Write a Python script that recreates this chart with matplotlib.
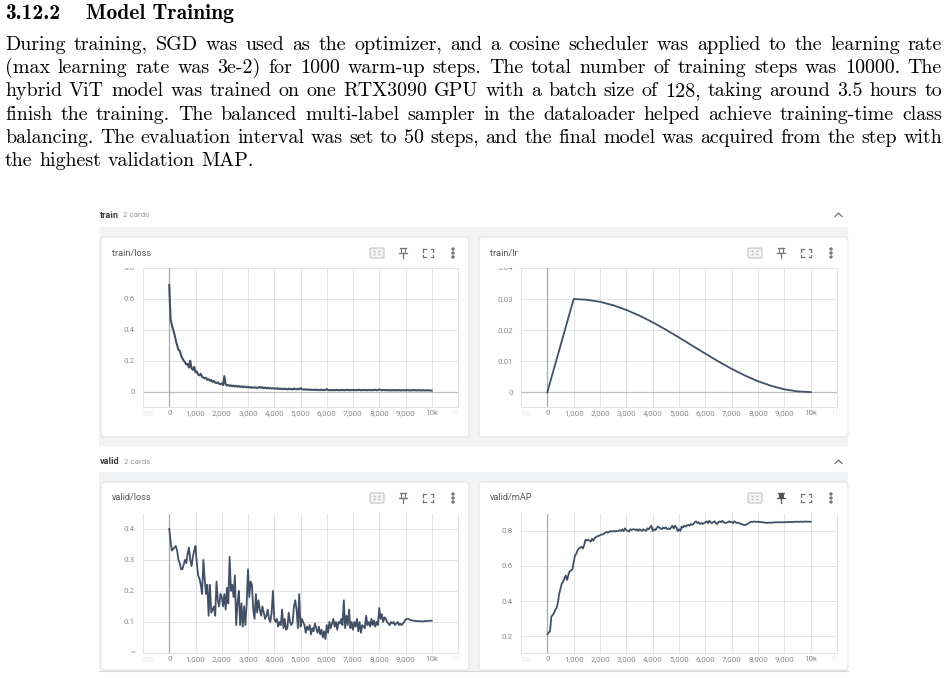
import matplotlib
matplotlib.use('agg')
import matplotlib.pyplot as plt
import numpy as np
from matplotlib.patches import Rectangle, FancyBboxPatch, Circle
from matplotlib.ticker import FuncFormatter
from matplotlib.transforms import Bbox, TransformedBbox

W, H = 947, 678

HEADING_NUM = '3.12.2'
HEADING_TITLE = 'Model Training'
PARAGRAPH = [
    'During training, SGD was used as the optimizer, and a cosine scheduler was applied to the learning rate',
    '(max learning rate was 3e-2) for 1000 warm-up steps. The total number of training steps was 10000. The',
    'hybrid ViT model was trained on one RTX3090 GPU with a batch size of 128, taking around 3.5 hours to',
    'finish the training. The balanced multi-label sampler in the dataloader helped achieve training-time class',
    'balancing. The evaluation interval was set to 50 steps, and the final model was acquired from the step with',
    'the highest validation MAP.',
]

steps = np.arange(0, 10001, 50)

train_loss = [
    0.69, 0.47, 0.43, 0.40, 0.37, 0.33, 0.30, 0.27, 0.265, 0.235,
    0.215, 0.20, 0.19, 0.175, 0.18, 0.155, 0.20, 0.15, 0.14, 0.16,
    0.125, 0.13, 0.11, 0.105, 0.115, 0.095, 0.09, 0.085, 0.09, 0.075,
    0.08, 0.07, 0.075, 0.062, 0.068, 0.058, 0.055, 0.06, 0.05, 0.048,
    0.052, 0.042, 0.10, 0.045, 0.038, 0.044, 0.036, 0.04, 0.034, 0.039,
    0.033, 0.037, 0.031, 0.036, 0.03, 0.034, 0.028, 0.033, 0.029, 0.027,
    0.031, 0.026, 0.029, 0.024, 0.028, 0.025, 0.027, 0.023, 0.026, 0.03,
    0.024, 0.028, 0.022, 0.026, 0.021, 0.025, 0.02, 0.023, 0.019, 0.022,
    0.02, 0.018, 0.022, 0.017, 0.02, 0.016, 0.019, 0.015, 0.018, 0.016,
    0.014, 0.019, 0.015, 0.017, 0.013, 0.02, 0.016, 0.014, 0.018, 0.015,
    0.022, 0.016, 0.013, 0.015, 0.012, 0.014, 0.011, 0.013, 0.012, 0.01,
    0.012, 0.01, 0.013, 0.009, 0.011, 0.01, 0.012, 0.009, 0.011, 0.01,
    0.016, 0.01, 0.008, 0.011, 0.009, 0.01, 0.008, 0.011, 0.009, 0.01,
    0.008, 0.011, 0.009, 0.01, 0.008, 0.012, 0.009, 0.01, 0.008, 0.011,
    0.009, 0.01, 0.008, 0.011, 0.009, 0.012, 0.008, 0.01, 0.009, 0.011,
    0.008, 0.01, 0.009, 0.011, 0.008, 0.01, 0.009, 0.012, 0.008, 0.01,
    0.014, 0.01, 0.008, 0.011, 0.009, 0.01, 0.008, 0.01, 0.007, 0.009,
    0.008, 0.01, 0.007, 0.009, 0.008, 0.01, 0.007, 0.009, 0.008, 0.009,
    0.007, 0.01, 0.008, 0.009, 0.007, 0.009, 0.008, 0.01, 0.007, 0.009,
    0.008, 0.009, 0.007, 0.009, 0.008, 0.007, 0.009, 0.007, 0.008, 0.007,
    0.006,
]

lr_steps = [0, 1000, 1500, 2000, 2500, 3000, 3500, 4000, 4500, 5000, 5500,
            6000, 6500, 7000, 7500, 8000, 8500, 9000, 9500, 10000]
lr_values = [0.0, 0.0300, 0.02977, 0.02910, 0.02799, 0.02649, 0.02464, 0.02250,
             0.02013, 0.01760, 0.01500, 0.01240, 0.00987, 0.00750, 0.00536,
             0.00351, 0.00201, 0.00090, 0.00023, 0.0]

valid_loss = [
    0.40, 0.36, 0.33, 0.335, 0.34, 0.345, 0.33, 0.30, 0.29, 0.27,
    0.27, 0.285, 0.30, 0.29, 0.32, 0.34, 0.30, 0.28, 0.31, 0.33,
    0.345, 0.29, 0.25, 0.24, 0.22, 0.19, 0.30, 0.24, 0.19, 0.22,
    0.12, 0.22, 0.13, 0.14, 0.15, 0.12, 0.23, 0.17, 0.15, 0.19,
    0.18, 0.15, 0.19, 0.14, 0.21, 0.16, 0.31, 0.20, 0.22, 0.18,
    0.25, 0.09, 0.16, 0.20, 0.09, 0.16, 0.085, 0.15, 0.09, 0.16,
    0.27, 0.18, 0.23, 0.22, 0.14, 0.11, 0.19, 0.13, 0.17, 0.14,
    0.12, 0.15, 0.13, 0.11, 0.12, 0.14, 0.11, 0.10, 0.13, 0.20,
    0.11, 0.10, 0.11, 0.085, 0.10, 0.09, 0.14, 0.08, 0.11, 0.075,
    0.08, 0.13, 0.10, 0.09, 0.10, 0.15, 0.17, 0.14, 0.08, 0.19,
    0.085, 0.11, 0.10, 0.09, 0.065, 0.085, 0.075, 0.09, 0.06, 0.08,
    0.07, 0.095, 0.08, 0.065, 0.085, 0.06, 0.075, 0.05, 0.07, 0.045,
    0.09, 0.065, 0.10, 0.08, 0.095, 0.11, 0.085, 0.10, 0.075, 0.10,
    0.095, 0.11, 0.09, 0.17, 0.08, 0.12, 0.09, 0.14, 0.08, 0.10,
    0.075, 0.10, 0.085, 0.11, 0.07, 0.10, 0.065, 0.09, 0.085, 0.08,
    0.12, 0.09, 0.10, 0.085, 0.11, 0.09, 0.105, 0.085, 0.10, 0.09,
    0.145, 0.11, 0.125, 0.10, 0.115, 0.11, 0.10, 0.095, 0.09, 0.10,
    0.095, 0.10, 0.09, 0.095, 0.10, 0.09, 0.095, 0.09, 0.095, 0.10,
    0.108, 0.11, 0.11, 0.108, 0.106, 0.105, 0.104, 0.104, 0.103, 0.103,
    0.103, 0.102, 0.102, 0.102, 0.102, 0.103, 0.103, 0.103, 0.104, 0.104,
    0.104,
]

valid_map = [
    0.21, 0.22, 0.225, 0.31, 0.32, 0.33, 0.35, 0.36, 0.39, 0.44,
    0.47, 0.50, 0.51, 0.53, 0.545, 0.52, 0.55, 0.57, 0.575, 0.58,
    0.62, 0.66, 0.67, 0.69, 0.70, 0.705, 0.71, 0.70, 0.72, 0.75,
    0.745, 0.75, 0.745, 0.74, 0.755, 0.745, 0.76, 0.765, 0.77, 0.772,
    0.775, 0.78, 0.78, 0.785, 0.79, 0.795, 0.79, 0.795, 0.80, 0.797,
    0.80, 0.796, 0.80, 0.798, 0.80, 0.805, 0.80, 0.81, 0.80, 0.815,
    0.805, 0.80, 0.796, 0.81, 0.805, 0.81, 0.81, 0.805, 0.81, 0.80,
    0.81, 0.805, 0.80, 0.81, 0.805, 0.80, 0.815, 0.81, 0.82, 0.83,
    0.80, 0.81, 0.805, 0.815, 0.825, 0.82, 0.815, 0.81, 0.82, 0.815,
    0.82, 0.81, 0.815, 0.81, 0.82, 0.83, 0.815, 0.83, 0.82, 0.80,
    0.81, 0.80, 0.825, 0.82, 0.83, 0.825, 0.83, 0.835, 0.83, 0.84,
    0.835, 0.84, 0.85, 0.855, 0.845, 0.85, 0.84, 0.845, 0.84, 0.845,
    0.85, 0.855, 0.845, 0.858, 0.85, 0.845, 0.85, 0.855, 0.845, 0.84,
    0.85, 0.855, 0.85, 0.858, 0.85, 0.845, 0.848, 0.85, 0.855, 0.85,
    0.852, 0.845, 0.855, 0.85, 0.845, 0.848, 0.844, 0.84, 0.838, 0.835,
    0.834, 0.836, 0.84, 0.845, 0.85, 0.853, 0.852, 0.854, 0.853, 0.852,
    0.853, 0.852, 0.85, 0.851, 0.849, 0.848, 0.847, 0.846, 0.847, 0.848,
    0.847, 0.848, 0.849, 0.85, 0.849, 0.85, 0.85, 0.849, 0.85, 0.85,
    0.85, 0.851, 0.85, 0.851, 0.852, 0.851, 0.852, 0.852, 0.853, 0.852,
    0.853, 0.852, 0.853, 0.853, 0.853, 0.853, 0.854, 0.853, 0.853, 0.853,
    0.853,
]

LINE = '#425066'
GRID = '#e3e3e3'
AXIS = '#a8a8a8'
TICK = '#8a8a8a'
FADED = '#e6e6e6'
PANEL_BG = '#f2f3f4'
TB_FONT = 'Roboto'
BODY_FONT = ['cmr10', 'DejaVu Serif']
BOLD_FONT = ['cmb10', 'DejaVu Serif']


def px_rect(x0, y0, x1, y1):
    return [x0 / W, 1 - y1 / H, (x1 - x0) / W, (y1 - y0) / H]


def fmt_step(v, pos):
    if v >= 10000:
        return f'{int(v / 1000)}k'
    return f'{int(v):,}'


def justify(bg, renderer, line, y, x0, x1, last=False, **kw):
    words = line.split(' ')
    texts = [bg.text(0, y, w, va='baseline', **kw) for w in words]
    widths = [t.get_window_extent(renderer).width for t in texts]
    space = texts[0].get_fontsize() * 100 / 72 * 0.33
    gap = space if last else (x1 - x0 - sum(widths)) / (len(words) - 1)
    x = x0
    for t, w in zip(texts, widths):
        t.set_x(x)
        x += w + gap


def draw_icons(bg, x, y, pinned=False):
    col = '#757575'
    # fit-domain box
    bg.add_patch(FancyBboxPatch((x - 7, y - 5), 14, 10, boxstyle='round,pad=0,rounding_size=1.5',
                                facecolor='#f4f4f4', edgecolor='#c4c4c4', lw=0.8))
    for dx, dy in [(-3, -2), (3, -2), (-3, 2), (3, 2)]:
        bg.plot([x + dx * 0.6, x + dx], [y + dy * 0.6, y + dy], color='#b0b0b0', lw=0.7)
    # pin
    px = x + 26
    pc = '#555555' if pinned else col
    bg.plot([px - 3, px + 3], [y - 5, y - 5], color=pc, lw=0.9)
    bg.add_patch(Rectangle((px - 2, y - 5), 4, 5, facecolor=pc if pinned else 'white',
                           edgecolor=pc, lw=0.8))
    bg.plot([px - 4, px + 4], [y, y], color=pc, lw=0.9)
    bg.plot([px, px], [y, y + 5], color=pc, lw=0.9)
    # fullscreen
    fx = x + 51
    for sx in (-1, 1):
        for sy in (-1, 1):
            cx, cy = fx + sx * 5, y + sy * 4
            bg.plot([cx, cx - sx * 2.5], [cy, cy], color=col, lw=0.9)
            bg.plot([cx, cx], [cy, cy - sy * 2.5], color=col, lw=0.9)
    # menu dots
    mx = x + 76
    for dy in (-4, 0, 4):
        bg.add_patch(Circle((mx, y + dy), 1.0, color=col))


def make_panel(fig, rect, xs, ys, ylim, yticks, zero_line, lw=1.3):
    ax = fig.add_axes(px_rect(*rect))
    ax.set_facecolor('none')
    ax.set_xlim(-1000, 11000)
    ax.set_ylim(*ylim)
    ax.set_xticks(list(range(-1000, 11001, 1000)))
    ax.xaxis.set_major_formatter(FuncFormatter(fmt_step))
    ax.set_yticks(yticks)
    ax.yaxis.set_major_formatter(FuncFormatter(lambda v, p: f'{v:g}'))
    ax.grid(True, color=GRID, lw=0.7)
    ax.set_axisbelow(True)
    ax.tick_params(axis='both', length=0, labelsize=5.8, labelcolor=TICK)
    ax.tick_params(axis='x', pad=2.3)
    ax.tick_params(axis='y', pad=6)
    for lbl in ax.get_xticklabels() + ax.get_yticklabels():
        lbl.set_fontfamily(TB_FONT)
    for s in ax.spines.values():
        s.set_color(GRID)
        s.set_linewidth(0.7)
    ax.spines['top'].set_visible(False)
    ax.axvline(0, color=AXIS, lw=0.9, zorder=1)
    if zero_line:
        ax.axhline(0, color='#bcbcbc', lw=0.9, zorder=1)
    ax.plot(xs, ys, color=LINE, lw=lw, zorder=3, solid_joinstyle='round')

    # faded end labels, clipped to the plot width
    xclip = TransformedBbox(Bbox([[0, -1], [1, 1]]), ax.transAxes)
    xticks = ax.xaxis.get_major_ticks()
    for t in (xticks[0], xticks[-1]):
        t.label1.set_color(FADED)
    for t in xticks:
        t.label1.set_clip_box(xclip)
        t.label1.set_clip_on(True)
    yclip = TransformedBbox(Bbox([[-1, 0], [1, 1]]), ax.transAxes)
    for t in ax.yaxis.get_major_ticks():
        lo, hi = ax.get_ylim()
        if not lo <= t.get_loc() <= hi:
            t.label1.set_color(FADED)
        t.label1.set_clip_box(yclip)
        t.label1.set_clip_on(True)
    return ax


fig = plt.figure(figsize=(W / 100, H / 100), dpi=100)
fig.patch.set_facecolor('white')
bg = fig.add_axes([0, 0, 1, 1], zorder=-1)
bg.set_xlim(0, W)
bg.set_ylim(H, 0)
bg.axis('off')
renderer = fig.canvas.get_renderer()

# heading and paragraph
num = bg.text(5, 19, HEADING_NUM, fontfamily=BOLD_FONT, fontsize=15.5, va='baseline', color='black')
nw = num.get_window_extent(renderer).width
bg.text(5 + nw + 26, 19, HEADING_TITLE, fontfamily=BOLD_FONT, fontsize=15.5, va='baseline', color='black')
for i, line in enumerate(PARAGRAPH):
    justify(bg, renderer, line, 50 + i * 23.2, 5, 942, last=(i == len(PARAGRAPH) - 1),
            fontfamily=BODY_FONT, fontsize=14.4, color='black')

# tensorboard background
bg.add_patch(Rectangle((99, 227), 749, 220, facecolor=PANEL_BG, edgecolor='none'))
bg.add_patch(Rectangle((99, 472), 749, 199, facecolor=PANEL_BG, edgecolor='none'))
bg.plot([99, 848], [671, 671], color='#d6d6d6', lw=0.8)

cards = [(101, 237, 469, 437), (479, 237, 848, 437), (101, 482, 469, 670), (479, 482, 848, 670)]
for x0, y0, x1, y1 in cards:
    bg.add_patch(FancyBboxPatch((x0, y0), x1 - x0, y1 - y0, boxstyle='round,pad=0,rounding_size=3',
                                facecolor='white', edgecolor='#e4e4e4', lw=0.8))

for label, y in [('train', 215), ('valid', 462)]:
    t = bg.text(100, y, label, fontfamily=TB_FONT, fontweight='bold', fontsize=6.6, color='#3c3c3c', va='center')
    tw = t.get_window_extent(renderer).width
    bg.text(100 + tw + 4, y, '2 cards', fontfamily=TB_FONT, fontsize=5.8, color='#9a9a9a', va='center')
    bg.plot([835, 838.5, 842], [y + 1.5, y - 2, y + 1.5], color='#707070', lw=0.9)

titles = ['train/loss', 'train/lr', 'valid/loss', 'valid/mAP']
for (x0, y0, x1, y1), title in zip(cards, titles):
    bg.text(x0 + 11, y0 + 16, title, fontfamily=TB_FONT, fontsize=6.6, color='#555555', va='center')
    draw_icons(bg, x0 + 276, y0 + 16, pinned=(title == 'valid/mAP'))

make_panel(fig, (143, 268, 458, 407), steps, train_loss, (-0.1, 0.79), [0, 0.2, 0.4, 0.6, 0.8], True, lw=1.5)
make_panel(fig, (521, 268, 837, 407), lr_steps, lr_values, (-0.0048, 0.0398), [0, 0.01, 0.02, 0.03, 0.04], True)
make_panel(fig, (143, 514, 458, 653), steps, valid_loss, (0.004, 0.448), [0, 0.1, 0.2, 0.3, 0.4], False)
make_panel(fig, (521, 514, 837, 653), steps, valid_map, (0.103, 0.897), [0.2, 0.4, 0.6, 0.8], False)

fig.savefig('out.png', dpi=100, facecolor='white')
